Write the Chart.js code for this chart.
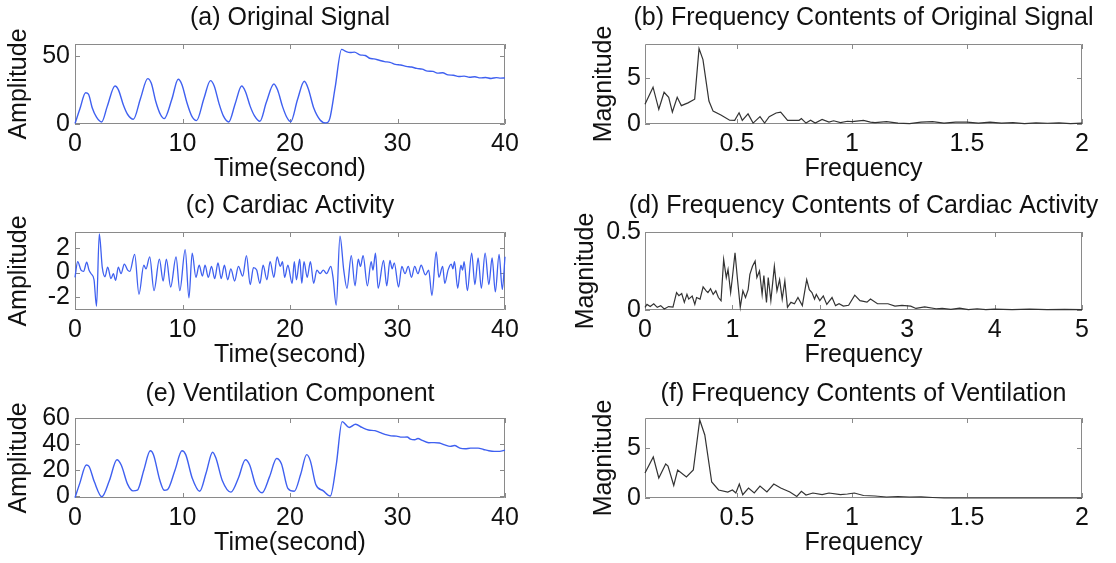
<!DOCTYPE html>
<html>
<head>
<meta charset="utf-8">
<script src="https://cdn.jsdelivr.net/npm/chart.js@4/dist/chart.umd.min.js"></script>
<style>
html, body { margin: 0; padding: 0; background: #fff; }
#wrap { position: relative; width: 1116px; height: 563px; overflow: hidden; background: #fff; }
#wrap canvas { position: absolute; }
</style>
</head>
<body>
<div id="wrap">
    <canvas id="chartA" width="560" height="187" style="left:0px;top:0px"></canvas>
    <canvas id="chartB" width="556" height="187" style="left:560px;top:0px"></canvas>
    <canvas id="chartC" width="560" height="188" style="left:0px;top:187px"></canvas>
    <canvas id="chartD" width="556" height="188" style="left:560px;top:187px"></canvas>
    <canvas id="chartE" width="560" height="188" style="left:0px;top:375px"></canvas>
    <canvas id="chartF" width="556" height="188" style="left:560px;top:375px"></canvas>
</div>
<script>
// (a) original signal
var timeA = [0, 0.45, 0.99, 1.25, 1.6, 2.0, 2.48, 3.0, 3.72, 4.05, 4.5, 4.9, 5.43, 6.1, 6.76, 7.1, 7.5, 7.95, 8.3,
    9.0, 9.6, 9.95, 10.4, 10.85, 11.3, 12.0, 12.6, 12.95, 13.4, 13.8, 14.3, 14.9, 15.5, 15.85, 16.3, 16.7, 17.2,
    17.8, 18.5, 18.85, 19.3, 19.7, 20.07, 20.7, 21.33, 21.7, 22.2, 22.8, 23.35, 23.7, 24.2, 24.8, 25.2, 25.6,
    26.0, 26.5, 27.0, 27.4, 27.8, 28.3, 28.8, 29.3, 29.8, 30.3, 30.8, 31.3, 31.8, 32.3, 32.8, 33.3, 33.7, 34.2,
    34.7, 35.2, 35.7, 36.2, 36.7, 37.2, 37.7, 38.2, 38.7, 39.2, 39.6, 40];
var signalA = [0.3, 11, 23, 22, 12, 5, 1.5, 13, 28, 25, 14, 7, 3.5, 19, 33.5, 30, 17, 7, 4,
    18, 33, 29, 16, 6, 2.5, 19, 32, 28, 15, 6, 1.5, 15, 28, 24, 13, 6, 2,
    16, 29.5, 25, 13, 5, 1.7, 18, 31.5, 26, 12, 3, 0.8, 4, 27, 55, 53.5, 52.7,
    53, 51, 50.5, 48.5, 48, 47, 46, 45.5, 44, 43.5, 42.5, 42, 41, 40.5, 39, 38.8, 37.5, 37.8,
    36.2, 36, 35, 35.3, 34.5, 34.8, 34, 34.3, 33.6, 34.2, 33.8, 34];

// (b) spectrum of original signal
var freqB = [0.1, 0.135, 0.16, 0.183, 0.203, 0.219, 0.24, 0.258, 0.287, 0.316, 0.335, 0.352, 0.378, 0.396, 0.43,
    0.468, 0.49, 0.509, 0.523, 0.548, 0.57, 0.6, 0.62, 0.64, 0.67, 0.69, 0.72, 0.77, 0.78, 0.8, 0.82, 0.84,
    0.87, 0.9, 0.92, 0.95, 0.98, 1.0, 1.03, 1.05, 1.08, 1.1, 1.15, 1.2, 1.25, 1.3, 1.35, 1.4, 1.45, 1.5,
    1.55, 1.6, 1.65, 1.7, 1.75, 1.8, 1.85, 1.9, 1.95, 2.0];
var magB = [2.15, 4.0, 1.6, 3.45, 2.9, 1.3, 2.9, 2.0, 2.3, 2.7, 8.2, 7.0, 2.5, 1.4, 0.97,
    0.41, 0.4, 1.22, 0.4, 1.1, 0.1, 0.8, 0.1, 0.8, 1.2, 1.3, 0.4, 0.4, 0.6, 0.1, 0.4, 0.1,
    0.5, 0.2, 0.35, 0.15, 0.3, 0.25, 0.35, 0.4, 0.2, 0.15, 0.25, 0.1, 0.05, 0.2, 0.25, 0.1, 0.2, 0.2,
    0.1, 0.2, 0.1, 0.15, 0.05, 0.12, 0.08, 0.12, 0.05, 0.1];

// (c) cardiac activity
var timeC = [0, 0.25, 0.56, 0.8, 1.09, 1.3, 1.5, 1.77, 2.0, 2.26, 2.54, 2.79, 3.04, 3.35, 3.57, 3.78, 4.03, 4.28,
    4.59, 4.9, 5.1, 5.55, 5.95, 6.4, 6.6, 6.95, 7.35, 7.85, 8.2, 8.5, 8.9, 9.4, 9.75, 10.25, 10.6, 10.9, 11.25,
    11.55, 11.85, 12.1, 12.4, 12.7, 13.0, 13.3, 13.6, 13.9, 14.2, 14.5, 14.85, 15.2, 15.6, 15.95, 16.3, 16.6,
    16.9, 17.2, 17.5, 17.85, 18.15, 18.5, 18.8, 19.1, 19.3, 19.5, 19.8, 20.2, 20.4, 20.6, 20.9, 21.1, 21.3,
    21.6, 21.9, 22.2, 22.5, 22.8, 23.1, 23.4, 23.8, 24.0, 24.3, 24.65, 25.0, 25.3, 25.7, 26.05, 26.35, 26.55,
    26.8, 27.2, 27.55, 27.72, 27.95, 28.2, 28.7, 29.0, 29.3, 29.5, 29.7, 30.1, 30.4, 30.7, 31.0, 31.3, 31.6,
    31.9, 32.2, 32.6, 32.9, 33.2, 33.6, 33.85, 34.2, 34.4, 34.7, 35.0, 35.15, 35.3, 35.6, 35.9, 36.05, 36.2,
    36.5, 36.9, 37.2, 37.5, 37.8, 38.15, 38.5, 38.8, 39.1, 39.45, 39.75, 40.0];
var signalC = [-0.4, 0.9, 0.2, 0.1, 0.85, 0.2, -0.1, -0.6, -2.8, 3.2, 0.4, -0.35, 0.45, -0.5, -0.1, -0.65, 0.45, -0.1,
    0.7, 0.2, 0.1, 1.5, -1.8, 0.6, 0.3, 1.3, -1.5, 1.1, -0.7, 1.1, -1.2, 1.3, -1.5, 1.9, -2.1, 1.6, -0.4,
    0.6, -0.3, 0.6, -0.4, 0.5, -0.5, 0.8, -0.5, 0.6, -0.6, 0.3, -0.7, 0.5, -0.3, 1.4, -1.0, 0.4,
    0.2, -0.9, 0.6, -0.6, 0.9, -0.4, 1.3, 0.5, 0.9, -0.4, 0.6, -0.9, 0.9, -0.6, 1.1, -0.9, 0.9,
    -0.4, 0.9, -0.9, 0.2, -0.1, 0.2, -0.1, 0.5, -0.4, -2.7, 3.0, 0.2, -1.3, 1.4, -1.1, 1.1, 0.5,
    1.4, -1.1, 0.9, 0.2, 1.6, -1.3, 1.0, -1.1, 1.0, 0.3, 0.8, -1.2, 0.5, -0.1, 0.5, -0.4, 0.5,
    -0.1, 0.6, -0.2, 0.2, -1.9, 1.7, -0.4, 0.5, -0.9, 0.2, 0.7, 0.3, 0.9, -1.3, 0.6, 0.2, 0.9,
    -1.5, 1.6, -1.0, 1.2, -1.3, 1.6, -1.0, 1.2, -1.6, 1.5, -1.4, 1.3];

// (d) spectrum of cardiac activity
var freqD = [0, 0.023, 0.06, 0.1, 0.14, 0.18, 0.22, 0.27, 0.32, 0.361, 0.388, 0.42, 0.45, 0.48, 0.5, 0.54, 0.57,
    0.59, 0.63, 0.665, 0.7, 0.72, 0.75, 0.78, 0.81, 0.84, 0.87, 0.9, 0.93, 0.95, 0.98, 1.0, 1.03, 1.06, 1.09,
    1.12, 1.15, 1.18, 1.2, 1.23, 1.26, 1.28, 1.31, 1.34, 1.36, 1.39, 1.41, 1.44, 1.48, 1.51, 1.54, 1.57, 1.6,
    1.63, 1.67, 1.71, 1.75, 1.8, 1.85, 1.88, 1.91, 1.94, 1.96, 2.0, 2.04, 2.08, 2.14, 2.18, 2.22, 2.27, 2.33,
    2.4, 2.46, 2.54, 2.58, 2.66, 2.78, 2.86, 2.94, 3.04, 3.1, 3.2, 3.33, 3.4, 3.5, 3.6, 3.7, 3.8, 3.9, 4.0,
    4.2, 4.4, 4.6, 4.8, 5.0];
var magD = [0.017, 0.036, 0.023, 0.04, 0.017, 0.028, 0.007, 0.022, 0.018, 0.112, 0.092, 0.106, 0.049, 0.1, 0.07, 0.09, 0.036,
    0.08, 0.07, 0.148, 0.123, 0.112, 0.137, 0.1, 0.123, 0.08, 0.06, 0.324, 0.208, 0.26, 0.112, 0.208, 0.367, 0.186, 0.017,
    0.123, 0.08, 0.13, 0.228, 0.28, 0.313, 0.208, 0.25, 0.1, 0.22, 0.049, 0.208, 0.06, 0.28, 0.123, 0.195, 0.07, 0.186,
    0.017, 0.049, 0.04, 0.08, 0.028, 0.195, 0.13, 0.112, 0.07, 0.1, 0.06, 0.09, 0.036, 0.08, 0.028, 0.04, 0.025, 0.03,
    0.095, 0.06, 0.05, 0.07, 0.04, 0.04, 0.025, 0.03, 0.025, 0.01, 0.02, 0.008, 0.01, 0.004, 0.012, 0.003, 0.008, 0.002, 0.006,
    0.003, 0.005, 0.002, 0.004, 0.003];

// (e) ventilation component
var timeE = [0, 0.45, 1.05, 1.3, 1.8, 2.5, 3.2, 3.9, 4.3, 4.9, 5.4, 5.8, 6.4, 7.0, 7.3, 7.9, 8.3, 8.6, 9.3, 9.95,
    10.3, 10.9, 11.6, 12.2, 12.8, 13.1, 13.7, 14.5, 15.2, 15.85, 16.25, 16.8, 17.4, 18.1, 18.75, 19.2, 19.8,
    20.4, 21.0, 21.55, 21.9, 22.4, 23.1, 23.75, 24.3, 24.85, 25.5, 26.1, 26.7, 27.3, 27.9, 28.4, 28.9, 29.4,
    29.9, 30.4, 30.9, 31.2, 31.6, 31.9, 32.3, 32.9, 33.4, 33.9, 34.4, 34.9, 35.3, 35.8, 36.3, 36.8, 37.5, 38.0,
    38.5, 39.0, 39.5, 40];
var signalE = [-1.2, 10, 24, 23, 11, -0.5, 12, 28, 24, 9, 4, 4.5, 20, 35, 32, 12, 4.5, 5, 20, 35,
    32, 14, 3.7, 18, 33.8, 29.5, 12, 3, 14, 28, 24, 8.5, 2.5, 15, 29, 25, 6,
    3.7, 17, 32, 27, 9, 4, 0, 24, 57.5, 53, 55.5, 53, 51, 50.5, 49, 47.5, 46.5,
    46.3, 45.5, 45.6, 44, 43.5, 44.5, 43, 41.2, 41.3, 41, 39.5, 38.4, 39, 37, 36.5, 37, 37, 36,
    35, 34.5, 34.5, 35.5];

// (f) spectrum of ventilation
var freqF = [0.1, 0.136, 0.16, 0.19, 0.2, 0.225, 0.242, 0.28, 0.31, 0.338, 0.36, 0.39, 0.42, 0.46, 0.48, 0.495,
    0.51, 0.525, 0.55, 0.575, 0.6, 0.63, 0.66, 0.69, 0.73, 0.76, 0.78, 0.8, 0.83, 0.87, 0.9, 0.95, 0.98, 1.01,
    1.05, 1.1, 1.15, 1.2, 1.25, 1.3, 1.35, 1.4, 1.6, 1.8, 2.0];
var magF = [2.5, 4.1, 2.0, 3.4, 3.2, 1.25, 2.8, 2.1, 2.8, 7.8, 6.3, 1.6, 0.8, 0.6, 0.8, 0.5,
    1.4, 0.33, 1.0, 0.5, 1.2, 0.6, 1.4, 1.0, 0.6, 0.16, 0.66, 0.3, 0.5, 0.33, 0.5, 0.33, 0.4, 0.5,
    0.25, 0.2, 0.1, 0.15, 0.1, 0.12, 0.05, 0, 0, 0, 0];

var timeTicks = [0, 10, 20, 30, 40];
var freqTicks = [0.5, 1, 1.5, 2];
var freqTicksD = [0, 1, 2, 3, 4, 5];

var FONT = '"Liberation Sans", Arial, Helvetica, sans-serif';
var TEXT = '#111111';
var BLUE = '#3f60f0';
var DARK = '#333333';
var XAXIS_H = 58;

// box with inward ticks, like MATLAB axes
var matlabBox = {
    id: 'matlabBox',
    beforeDatasetsDraw: function (chart) {
        var ctx = chart.ctx, a = chart.chartArea, x = chart.scales.x, y = chart.scales.y;
        ctx.save();
        ctx.strokeStyle = '#8a8a8a';
        ctx.lineWidth = 1;
        ctx.beginPath();
        ctx.rect(Math.round(a.left) + 0.5, Math.round(a.top) + 0.5,
            Math.round(a.right - a.left) - 1, Math.round(a.bottom - a.top) - 1);
        x.ticks.forEach(function (t) {
            var px = Math.round(x.getPixelForValue(t.value)) + 0.5;
            ctx.moveTo(px, a.top); ctx.lineTo(px, a.top + 5);
            ctx.moveTo(px, a.bottom); ctx.lineTo(px, a.bottom - 5);
        });
        y.ticks.forEach(function (t) {
            var py = Math.round(y.getPixelForValue(t.value)) + 0.5;
            ctx.moveTo(a.left, py); ctx.lineTo(a.left + 5, py);
            ctx.moveTo(a.right, py); ctx.lineTo(a.right - 5, py);
        });
        ctx.stroke();
        ctx.restore();
    }
};

// subplot title, centred over the plot box (the built-in title centres over the whole canvas)
var panelTitle = {
    id: 'panelTitle',
    afterDraw: function (chart, args, opts) {
        var ctx = chart.ctx, a = chart.chartArea;
        ctx.save();
        ctx.font = '25px ' + FONT;
        ctx.fillStyle = TEXT;
        ctx.textAlign = 'center';
        ctx.textBaseline = 'middle';
        ctx.fillText(opts.text, (a.left + a.right) / 2, opts.y);
        ctx.restore();
    }
};

function points(xs, ys) {
    return xs.map(function (v, i) { return { x: v, y: ys[i] }; });
}

function fixedTicks(list) {
    return function (scale) {
        scale.ticks = list.map(function (v) { return { value: v }; });
    };
}

var textFont = { family: FONT, size: 25, weight: 'normal', lineHeight: 1 };

// one MATLAB-like subplot per canvas
function makePanel(id, p) {
    var ctx = document.getElementById(id).getContext('2d');
    return new Chart(ctx, {
        type: 'line',
        data: {
            datasets: [{
                data: points(p.xs, p.ys),
                borderColor: p.color,
                borderWidth: p.width,
                pointRadius: 0,
                cubicInterpolationMode: p.smooth ? 'monotone' : 'default',
                tension: 0,
                clip: 2
            }]
        },
        plugins: [matlabBox, panelTitle],
        options: {
            responsive: false,
            animation: false,
            events: [],
            layout: {
                autoPadding: false,
                padding: {
                    left: 0,
                    top: p.box.t - p.canvas.y,
                    right: p.canvas.x + p.canvas.w - p.box.r,
                    bottom: p.canvas.y + p.canvas.h - (p.box.b + XAXIS_H)
                }
            },
            plugins: {
                legend: { display: false },
                tooltip: { enabled: false },
                panelTitle: { text: p.title, y: p.titleTop + 12.5 }
            },
            scales: {
                x: {
                    type: 'linear',
                    position: 'bottom',
                    min: p.xMin,
                    max: p.xMax,
                    grid: { display: false, drawTicks: false },
                    border: { display: false },
                    afterBuildTicks: fixedTicks(p.xTicks),
                    afterFit: function (s) { s.height = XAXIS_H; },
                    ticks: {
                        color: TEXT,
                        padding: 8,
                        maxRotation: 0,
                        autoSkip: false,
                        font: textFont,
                        callback: function (v) { return String(v); }
                    },
                    title: {
                        display: true,
                        text: p.xLabel,
                        color: TEXT,
                        padding: 0,
                        font: textFont
                    }
                },
                y: {
                    type: 'linear',
                    min: p.yMin,
                    max: p.yMax,
                    grid: { display: false, drawTicks: false },
                    border: { display: false },
                    afterBuildTicks: fixedTicks(p.yTicks),
                    afterFit: function (s) { s.width = p.box.l - p.canvas.x; },
                    ticks: {
                        color: TEXT,
                        padding: p.yTickPad,
                        autoSkip: false,
                        font: textFont,
                        callback: function (v) { return String(v); }
                    },
                    title: {
                        display: true,
                        text: p.yLabel,
                        color: TEXT,
                        padding: { top: p.yTitlePad, bottom: 0 },
                        font: textFont
                    }
                }
            }
        }
    });
}

var leftCol = { x: 0, w: 560, l: 75, r: 505, yTitlePad: 6.5, yTickPad: 5 };
var rightCol = { x: 560, w: 556, l: 645, r: 1082, yTitlePad: 31.5, yTickPad: 4 };
var rows = [
    { y: 0, h: 187, t: 44, b: 124, titleTop: 5.5 },
    { y: 187, h: 188, t: 232, b: 310, titleTop: 6.5 },
    { y: 375, h: 188, t: 418, b: 498, titleTop: 6.5 }
];

function panel(id, col, row, extra) {
    var p = {
        canvas: { x: col.x, y: row.y, w: col.w, h: row.h },
        box: { l: col.l, r: col.r, t: row.t, b: row.b },
        titleTop: row.titleTop,
        yTitlePad: col.yTitlePad,
        yTickPad: col.yTickPad
    };
    for (var k in extra) p[k] = extra[k];
    return makePanel(id, p);
}

var chartA = panel('chartA', leftCol, rows[0], {
    title: '(a) Original Signal', xLabel: 'Time(second)', yLabel: 'Amplitude',
    xs: timeA, ys: signalA, color: BLUE, width: 1.4, smooth: true,
    xMin: 0, xMax: 40, xTicks: timeTicks, yMin: 0, yMax: 59, yTicks: [0, 50]
});

var chartB = panel('chartB', rightCol, rows[0], {
    title: '(b) Frequency Contents of Original Signal', xLabel: 'Frequency', yLabel: 'Magnitude',
    xs: freqB, ys: magB, color: DARK, width: 1.2, smooth: false,
    xMin: 0.1, xMax: 2, xTicks: freqTicks, yMin: 0, yMax: 8.7, yTicks: [0, 5]
});

var chartC = panel('chartC', leftCol, rows[1], {
    title: '(c) Cardiac Activity', xLabel: 'Time(second)', yLabel: 'Amplitude',
    xs: timeC, ys: signalC, color: BLUE, width: 1.3, smooth: true,
    xMin: 0, xMax: 40, xTicks: timeTicks, yMin: -3.1, yMax: 3.35, yTicks: [-2, 0, 2]
});

var chartD = panel('chartD', rightCol, rows[1], {
    title: '(d) Frequency Contents of Cardiac Activity', xLabel: 'Frequency', yLabel: 'Magnitude',
    xs: freqD, ys: magD, color: DARK, width: 1.2, smooth: false, yTitlePad: 13.5,
    xMin: 0, xMax: 5, xTicks: freqTicksD, yMin: 0, yMax: 0.5, yTicks: [0, 0.5]
});

var chartE = panel('chartE', leftCol, rows[2], {
    title: '(e) Ventilation Component', xLabel: 'Time(second)', yLabel: 'Amplitude',
    xs: timeE, ys: signalE, color: BLUE, width: 1.4, smooth: true,
    xMin: 0, xMax: 40, xTicks: timeTicks, yMin: -1.5, yMax: 60.3, yTicks: [0, 20, 40, 60]
});

var chartF = panel('chartF', rightCol, rows[2], {
    title: '(f) Frequency Contents of Ventilation', xLabel: 'Frequency', yLabel: 'Magnitude',
    xs: freqF, ys: magF, color: DARK, width: 1.2, smooth: false,
    xMin: 0.1, xMax: 2, xTicks: freqTicks, yMin: 0, yMax: 8, yTicks: [0, 5]
});
</script>
</body>
</html>
